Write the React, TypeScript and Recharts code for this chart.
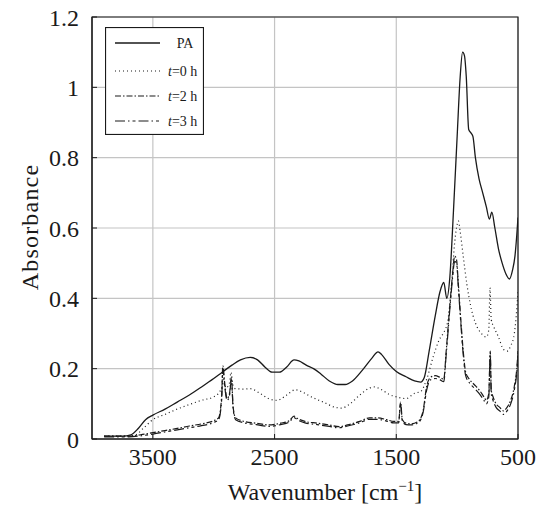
import {
  LineChart,
  Line,
  XAxis,
  YAxis,
  CartesianGrid,
  ReferenceArea,
  Legend,
} from "recharts";

// [wavenumber cm-1, absorbance]
const paPoints = [
  [3900, 0.008], [3750, 0.008], [3680, 0.012], [3620, 0.03], [3560, 0.055],
  [3500, 0.068], [3400, 0.085], [3300, 0.105], [3200, 0.125], [3100, 0.148],
  [3000, 0.172], [2930, 0.19], [2850, 0.21], [2780, 0.225], [2700, 0.232],
  [2640, 0.225], [2580, 0.205], [2520, 0.19], [2460, 0.19], [2400, 0.205],
  [2340, 0.225], [2300, 0.222], [2240, 0.21], [2180, 0.2], [2120, 0.185],
  [2050, 0.165], [1980, 0.155], [1920, 0.155], [1860, 0.165], [1780, 0.195],
  [1700, 0.23], [1650, 0.248], [1620, 0.24], [1560, 0.212], [1500, 0.192],
  [1420, 0.177], [1350, 0.165], [1300, 0.162], [1270, 0.175], [1230, 0.25],
  [1180, 0.35], [1140, 0.42], [1110, 0.445], [1085, 0.4], [1060, 0.46],
  [1030, 0.65], [1000, 0.86], [975, 1.03], [955, 1.1], [940, 1.09],
  [925, 1.03], [905, 0.88], [885, 0.87], [870, 0.86], [850, 0.8],
  [820, 0.74], [790, 0.7], [760, 0.66], [735, 0.625], [715, 0.645],
  [690, 0.6], [660, 0.54], [630, 0.5], [600, 0.47], [570, 0.455],
  [545, 0.48], [525, 0.52], [510, 0.58], [500, 0.63],
];

const t0Points = [
  [3900, 0.008], [3700, 0.008], [3640, 0.012], [3580, 0.03], [3500, 0.055],
  [3400, 0.07], [3300, 0.085], [3200, 0.098], [3100, 0.11], [3000, 0.12],
  [2950, 0.135], [2930, 0.15], [2920, 0.17], [2900, 0.145], [2870, 0.16],
  [2858, 0.19], [2840, 0.15], [2820, 0.143], [2750, 0.142], [2700, 0.143],
  [2620, 0.13], [2550, 0.115], [2480, 0.11], [2400, 0.125], [2330, 0.14],
  [2280, 0.135], [2200, 0.12], [2100, 0.105], [2000, 0.09], [1950, 0.088],
  [1880, 0.1], [1800, 0.125], [1720, 0.145], [1680, 0.148], [1620, 0.14],
  [1560, 0.127], [1500, 0.12], [1420, 0.115], [1350, 0.13], [1300, 0.135],
  [1250, 0.17], [1200, 0.23], [1150, 0.28], [1100, 0.31], [1080, 0.33],
  [1050, 0.42], [1020, 0.56], [1000, 0.61], [990, 0.62], [975, 0.59],
  [950, 0.52], [920, 0.44], [890, 0.38], [850, 0.33], [800, 0.3],
  [760, 0.29], [740, 0.31], [730, 0.43], [720, 0.34], [700, 0.32],
  [660, 0.29], [620, 0.255], [590, 0.25], [560, 0.265], [530, 0.3],
  [510, 0.37], [500, 0.42],
];

const t2Points = [
  [3900, 0.008], [3700, 0.008], [3600, 0.012], [3500, 0.018], [3400, 0.024],
  [3300, 0.03], [3200, 0.037], [3100, 0.043], [3000, 0.052], [2960, 0.06],
  [2935, 0.12], [2925, 0.208], [2910, 0.16], [2890, 0.115], [2870, 0.13],
  [2855, 0.175], [2840, 0.09], [2820, 0.06], [2750, 0.05], [2650, 0.045],
  [2550, 0.04], [2450, 0.045], [2380, 0.052], [2340, 0.065], [2310, 0.058],
  [2250, 0.05], [2150, 0.045], [2050, 0.04], [1970, 0.035], [1900, 0.04],
  [1800, 0.05], [1720, 0.06], [1650, 0.06], [1580, 0.055], [1520, 0.05],
  [1480, 0.05], [1465, 0.105], [1450, 0.055], [1420, 0.045], [1380, 0.043],
  [1320, 0.05], [1280, 0.08], [1250, 0.15], [1220, 0.175], [1180, 0.18],
  [1140, 0.175], [1110, 0.17], [1090, 0.25], [1060, 0.38], [1040, 0.46],
  [1020, 0.52], [1005, 0.51], [990, 0.44], [970, 0.34], [950, 0.25],
  [930, 0.19], [900, 0.17], [860, 0.155], [820, 0.14], [780, 0.12],
  [760, 0.11], [740, 0.13], [728, 0.25], [720, 0.14], [705, 0.12],
  [680, 0.1], [650, 0.09], [620, 0.08], [590, 0.09], [560, 0.11],
  [530, 0.15], [510, 0.2], [500, 0.25],
];

const t3Points = [
  [3900, 0.006], [3700, 0.006], [3600, 0.009], [3500, 0.014], [3400, 0.02],
  [3300, 0.026], [3200, 0.032], [3100, 0.038], [3000, 0.047], [2960, 0.055],
  [2935, 0.11], [2925, 0.2], [2910, 0.15], [2890, 0.11], [2870, 0.125],
  [2855, 0.168], [2840, 0.085], [2820, 0.055], [2750, 0.046], [2650, 0.041],
  [2550, 0.036], [2450, 0.041], [2380, 0.048], [2340, 0.061], [2310, 0.054],
  [2250, 0.046], [2150, 0.041], [2050, 0.036], [1970, 0.032], [1900, 0.037],
  [1800, 0.046], [1720, 0.056], [1650, 0.056], [1580, 0.051], [1520, 0.046],
  [1480, 0.046], [1465, 0.1], [1450, 0.05], [1420, 0.041], [1380, 0.04],
  [1320, 0.046], [1280, 0.075], [1250, 0.14], [1220, 0.168], [1180, 0.172],
  [1140, 0.168], [1110, 0.163], [1090, 0.24], [1060, 0.37], [1040, 0.45],
  [1020, 0.505], [1005, 0.5], [990, 0.43], [970, 0.33], [950, 0.24],
  [930, 0.18], [900, 0.16], [860, 0.145], [820, 0.13], [780, 0.11],
  [760, 0.1], [740, 0.12], [728, 0.24], [720, 0.13], [705, 0.11],
  [680, 0.09], [650, 0.08], [620, 0.07], [590, 0.08], [560, 0.1],
  [530, 0.14], [510, 0.19], [500, 0.24],
];

const xTicks = [3500, 2500, 1500, 500];
const yTicks = [0, 0.2, 0.4, 0.6, 0.8, 1, 1.2];

const toRows = (pts: number[][]) => pts.map(([wn, a]) => ({ wn, a }));

const FONT = "'Liberation Serif', serif";
const INK = "#1a1a1a";

const series = [
  { name: "pa", label: "PA", rows: toRows(paPoints), dash: undefined, width: 1.3 },
  { name: "t0", label: "0", rows: toRows(t0Points), dash: "1 3", width: 1.2 },
  { name: "t2", label: "2", rows: toRows(t2Points), dash: "6 2 1.5 2", width: 1.2 },
  { name: "t3", label: "3", rows: toRows(t3Points), dash: "10 3 1.5 3 3 3", width: 1.2 },
];

function LegendBox() {
  const rowY = [16, 44, 69, 94];
  return (
    <svg width={99} height={108} style={{ display: "block" }}>
      <rect x={0.5} y={0.5} width={98} height={107} fill="#fff" stroke={INK} strokeWidth={1.2} />
      {series.map((s, i) => (
        <g key={s.name}>
          <line
            x1={10}
            x2={55}
            y1={rowY[i]}
            y2={rowY[i]}
            stroke={INK}
            strokeWidth={s.width}
            strokeDasharray={s.dash}
          />
          {i === 0 ? (
            <text x={80} y={rowY[i] + 5} textAnchor="middle" fontSize={14} style={{ fontFamily: FONT }} fill={INK}>
              PA
            </text>
          ) : (
            <text x={63} y={rowY[i] + 5} fontSize={14} style={{ fontFamily: FONT }} fill={INK}>
              <tspan fontStyle="italic">t</tspan>={s.label} h
            </text>
          )}
        </g>
      ))}
    </svg>
  );
}

function XLabel() {
  return (
    <text x={325} y={500} textAnchor="middle" fontSize={24} style={{ fontFamily: FONT }} fill={INK}>
      Wavenumber [cm
      <tspan dy={-9} fontSize={15}>−1</tspan>
      <tspan dy={9}>]</tspan>
    </text>
  );
}

function YLabel() {
  return (
    <text
      x={30}
      y={227}
      transform="rotate(-90 30 227)"
      textAnchor="middle"
      dominantBaseline="central"
      fontSize={24}
      letterSpacing={1.2}
      style={{ fontFamily: FONT }}
      fill={INK}
    >
      Absorbance
    </text>
  );
}

const noLabel = () => <g />;

export default function App() {
  return (
    <div style={{ position: "absolute", left: 0, top: 0, width: 537, height: 511, background: "#fff" }}>
      <LineChart width={537} height={511} margin={{ top: 17, right: 19, bottom: 0, left: 0 }}>
        <CartesianGrid stroke="#c4c4c4" strokeWidth={1.2} />
        <XAxis
          dataKey="wn"
          type="number"
          domain={[500, 4000]}
          reversed
          ticks={xTicks}
          allowDataOverflow
          height={72}
          tickSize={-5}
          tickMargin={14}
          axisLine={{ stroke: INK }}
          tickLine={{ stroke: INK }}
          tick={{ fontSize: 24, style: { fontFamily: FONT }, fill: INK }}
          label={{ content: () => <XLabel /> }}
        />
        <XAxis
          xAxisId="top"
          orientation="top"
          dataKey="wn"
          type="number"
          domain={[500, 4000]}
          reversed
          ticks={xTicks}
          allowDataOverflow
          height={0}
          tickSize={-5}
          axisLine={false}
          tickLine={{ stroke: INK }}
          tick={noLabel}
        />
        <YAxis
          type="number"
          domain={[0, 1.2]}
          ticks={yTicks}
          width={92}
          tickSize={-5}
          tickMargin={18}
          axisLine={{ stroke: INK }}
          tickLine={{ stroke: INK }}
          tick={{ fontSize: 24, style: { fontFamily: FONT }, fill: INK }}
          label={{ content: () => <YLabel /> }}
        />
        <YAxis
          yAxisId="right"
          orientation="right"
          type="number"
          domain={[0, 1.2]}
          ticks={yTicks}
          width={0}
          tickSize={-5}
          axisLine={false}
          tickLine={{ stroke: INK }}
          tick={noLabel}
        />
        <ReferenceArea x1={4000} x2={500} y1={0} y2={1.2} fill="none" stroke={INK} strokeWidth={1.2} />
        {series.map((s) => (
          <Line
            key={s.name}
            data={s.rows}
            dataKey="a"
            name={s.name}
            type="monotone"
            dot={false}
            stroke={INK}
            strokeWidth={s.width}
            strokeDasharray={s.dash}
            isAnimationActive={false}
          />
        ))}
        <Legend
          layout="vertical"
          align="center"
          verticalAlign="middle"
          wrapperStyle={{ left: 105, top: 27, width: 99, height: 108 }}
          content={() => <LegendBox />}
        />
      </LineChart>
    </div>
  );
}
